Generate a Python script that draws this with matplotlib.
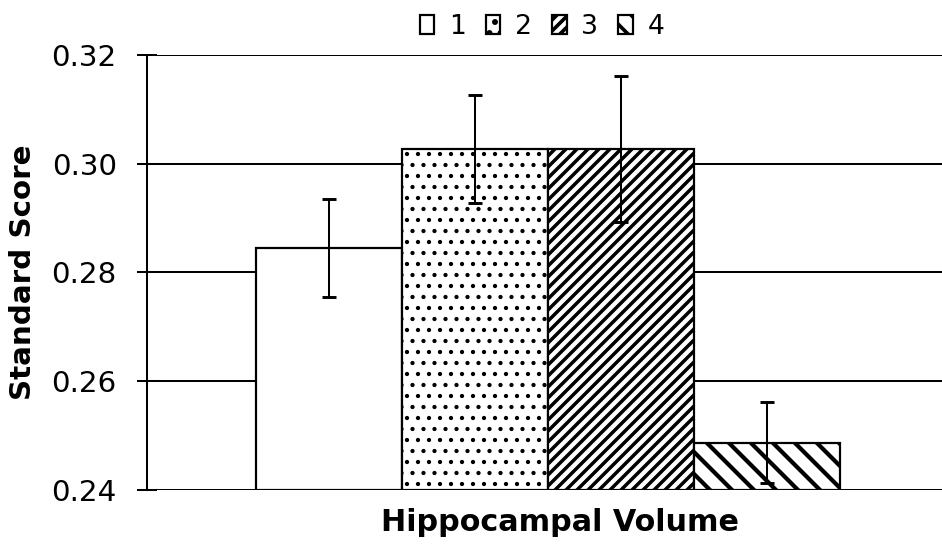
import numpy as np
import matplotlib
matplotlib.use('Agg')
import matplotlib.pyplot as plt
from matplotlib.patches import Patch

# data
groups = ['1', '2', '3', '4']
means = [0.2845, 0.3027, 0.3027, 0.2487]
errs = [0.0090, 0.0099, 0.0135, 0.0075]
hatches = ['', '..', '////', '\\\\']
yticks = [0.24, 0.26, 0.28, 0.30, 0.32]

DPI = 132
plt.rcParams['font.family'] = 'DejaVu Sans'
plt.rcParams['hatch.linewidth'] = 2.0

fig = plt.figure(figsize=(942 / DPI, 550 / DPI), dpi=DPI)
ax = fig.add_axes([147 / 942, 1 - 490 / 550, 1 - 147 / 942, 435 / 550])

width = 0.1836
x = (np.arange(len(groups)) - 1.5) * width + 0.004

bars = ax.bar(x, [m - 0.24 for m in means], width=width, bottom=0.24,
              color='white', edgecolor='black', linewidth=1.2, zorder=2)
hlw = [1.0, 1.1, 1.9, 2.3]
for b, h, lw in zip(bars, hatches, hlw):
    b.set_hatch(h)
    if hasattr(b, 'set_hatch_linewidth'):
        b.set_hatch_linewidth(lw)

ax.errorbar(x, means, yerr=errs, fmt='none', ecolor='black',
            elinewidth=1.1, capsize=3.8, capthick=1.6, zorder=3)

ax.set_xlim(-0.5, 0.5)
ax.set_ylim(0.24, 0.32)
ax.set_yticks(yticks)
ax.set_yticklabels([f'{t:.2f}' for t in yticks])
ax.set_xticks([])
ax.tick_params(axis='y', direction='inout', length=11, width=1.1,
               labelsize=16, pad=11)
ax.yaxis.grid(True, color='black', linewidth=1.1, zorder=0)
ax.set_axisbelow(True)
for s in ['top', 'right', 'bottom']:
    ax.spines[s].set_visible(False)
ax.spines['left'].set_linewidth(1.1)

ax.set_ylabel('Standard Score', fontsize=16, fontweight='bold', labelpad=8)
ax.set_xlabel('Hippocampal Volume', fontsize=16.5, fontweight='bold')
ax.xaxis.set_label_coords((560 - 147) / 795, -18 / 435, transform=ax.transAxes)

handles = []
for g, h, lw in zip(groups, hatches, hlw):
    p = Patch(facecolor='white', edgecolor='black', hatch=h, linewidth=1.2, label=g)
    if hasattr(p, 'set_hatch_linewidth'):
        p.set_hatch_linewidth(lw)
    handles.append(p)
fig.legend(handles=handles, loc='center', bbox_to_anchor=(542 / 942, 1 - 27 / 550),
           ncol=4, frameon=False, fontsize=14.5, handlelength=0.55, handleheight=0.75,
           handletextpad=0.55, columnspacing=0.75, borderpad=0)

fig.savefig('out.png', dpi=DPI)
